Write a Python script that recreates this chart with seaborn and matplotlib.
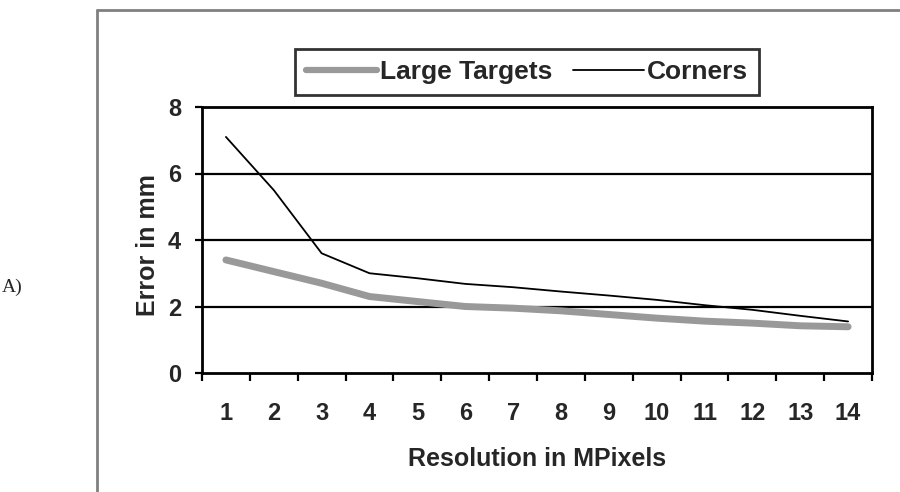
import matplotlib
matplotlib.use("Agg")
import matplotlib.pyplot as plt
from matplotlib.lines import Line2D
import pandas as pd
import seaborn as sns

# values
resolution = list(range(1, 15))
large_targets = [3.4, 3.05, 2.7, 2.3, 2.15, 2.0, 1.95, 1.87, 1.76, 1.65, 1.56, 1.5, 1.42, 1.39]
corners = [7.1, 5.5, 3.6, 3.0, 2.85, 2.68, 2.58, 2.45, 2.33, 2.2, 2.04, 1.9, 1.72, 1.55]
y_ticks = [0, 2, 4, 6, 8]

sns.set_style("white")
plt.rcParams["font.family"] = ["Liberation Sans", "DejaVu Sans"]

df = pd.DataFrame({
    "res": resolution * 2,
    "err": large_targets + corners,
    "series": ["Large Targets"] * 14 + ["Corners"] * 14,
})

fig = plt.figure(figsize=(9, 4.92), dpi=100)
ax = fig.add_axes([202 / 900, 1 - 373 / 492, 670 / 900, 266 / 492])

sns.lineplot(data=df[df.series == "Large Targets"], x="res", y="err",
             color="#999999", linewidth=5, ax=ax, legend=False)
sns.lineplot(data=df[df.series == "Corners"], x="res", y="err",
             color="black", linewidth=1.3, ax=ax, legend=False)

ax.set_xlim(0.5, 14.5)
ax.set_ylim(0, 8)

# gridlines
for v in y_ticks[1:-1]:
    ax.axhline(v, color="black", lw=1.6, zorder=0)

# category axis: labels centred, ticks at boundaries
ax.set_xticks(resolution)
ax.set_xticklabels([str(r) for r in resolution], fontsize=17, fontweight="bold")
ax.tick_params(axis="x", which="major", length=0, pad=21)
ax.set_xticks([r - 0.5 for r in resolution] + [14.5], minor=True)
ax.tick_params(axis="x", which="minor", length=6, width=1.6, direction="out",
               bottom=True, color="black")

ax.set_yticks(y_ticks)
ax.set_yticklabels([str(v) for v in y_ticks], fontsize=17, fontweight="bold")
ax.tick_params(axis="y", length=5, width=1.6, direction="out", left=True,
               color="black", pad=10)

for s in ax.spines.values():
    s.set_color("black")
    s.set_linewidth(2)

ax.set_xlabel("Resolution in MPixels", fontsize=18, fontweight="bold", labelpad=16)
ax.set_ylabel("Error in mm", fontsize=18, fontweight="bold")
ax.yaxis.set_label_coords(-0.062, 0.48)

handles = [Line2D([], [], color="#999999", lw=4.5),
           Line2D([], [], color="black", lw=1.3)]
leg = fig.legend(handles, ["Large Targets", "Corners"], loc="center",
                 bbox_to_anchor=(527 / 900, 1 - 72 / 492), ncol=2,
                 prop={"size": 19, "weight": "bold"}, handlelength=2.7,
                 handletextpad=0.1, columnspacing=0.8, borderpad=0.4,
                 borderaxespad=0, frameon=True, fancybox=False, edgecolor="black")
leg.get_frame().set_linewidth(2)

# outer frame of the figure panel
fig.add_artist(Line2D([97 / 900, 1.0], [1 - 10 / 492, 1 - 10 / 492],
                      color="#808080", lw=2, transform=fig.transFigure))
fig.add_artist(Line2D([97 / 900, 97 / 900], [0, 1 - 10 / 492],
                      color="#808080", lw=2, transform=fig.transFigure))

fig.text(2 / 900, 1 - 287 / 492, "A)", family=["Liberation Serif", "DejaVu Serif"],
         fontsize=14, ha="left", va="center")

fig.savefig("out.png", dpi=100)
